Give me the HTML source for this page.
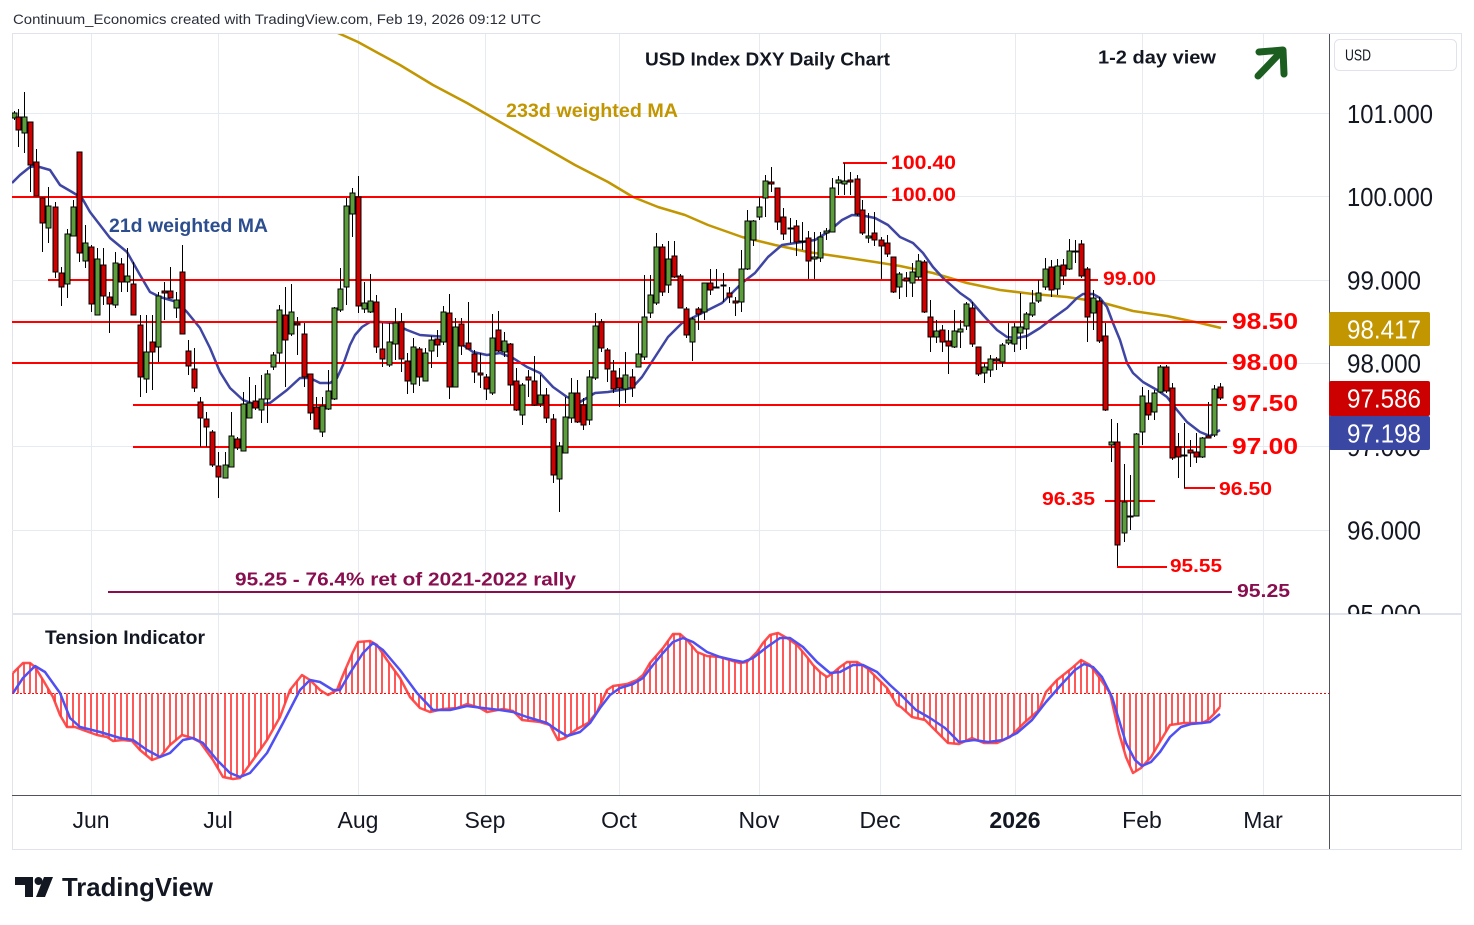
<!DOCTYPE html>
<html><head><meta charset="utf-8">
<style>
html,body{margin:0;padding:0;background:#fff;}
svg{display:block;font-family:"Liberation Sans",Arial,sans-serif;}
</style></head><body>
<svg id="s" width="1474" height="925" viewBox="0 0 1474 925" xmlns="http://www.w3.org/2000/svg">
<defs>
<clipPath id="mp"><rect x="12" y="34" width="1317" height="580"/></clipPath>
<clipPath id="ip"><rect x="12" y="615" width="1317" height="180"/></clipPath>
<clipPath id="ax"><rect x="1330" y="34" width="131" height="580"/></clipPath>
</defs>
<rect width="1474" height="925" fill="#fff"/>

<!-- header -->
<text x="13" y="24" font-size="14" fill="#2a2e39" textLength="528" lengthAdjust="spacingAndGlyphs">Continuum_Economics created with TradingView.com, Feb 19, 2026 09:12 UTC</text>

<!-- frame -->
<rect x="12.5" y="33.5" width="1449" height="816" fill="none" stroke="#e0e3eb"/>

<!-- grid -->
<g stroke="#e6ebf1" stroke-width="1">
<line x1="91.5" y1="34" x2="91.5" y2="795"/>
<line x1="218.5" y1="34" x2="218.5" y2="795"/>
<line x1="358.5" y1="34" x2="358.5" y2="795"/>
<line x1="485.5" y1="34" x2="485.5" y2="795"/>
<line x1="619.5" y1="34" x2="619.5" y2="795"/>
<line x1="759.5" y1="34" x2="759.5" y2="795"/>
<line x1="880.5" y1="34" x2="880.5" y2="795"/>
<line x1="1015.5" y1="34" x2="1015.5" y2="795"/>
<line x1="1142.5" y1="34" x2="1142.5" y2="795"/>
<line x1="1263.5" y1="34" x2="1263.5" y2="795"/>
<line x1="12" y1="113.5" x2="1329" y2="113.5"/>
<line x1="12" y1="196.5" x2="1329" y2="196.5"/>
<line x1="12" y1="280.5" x2="1329" y2="280.5"/>
<line x1="12" y1="363.5" x2="1329" y2="363.5"/>
<line x1="12" y1="446.5" x2="1329" y2="446.5"/>
<line x1="12" y1="530.5" x2="1329" y2="530.5"/>
</g>

<!-- pane separator -->
<line x1="12" y1="614" x2="1461" y2="614" stroke="#e0e3eb" stroke-width="2"/>

<g clip-path="url(#mp)">
<!-- 233d MA -->
<polyline fill="none" stroke="#c29600" stroke-width="2.5" stroke-linejoin="round" points="330,29 338,33 358,42 400,65 433,85 467,103 500,122 575,165 608,182 633,197 658,207 685,215 708,225 742,237 775,245 808,252 842,257 875,262 900,266 933,273 967,283 1000,290 1033,294 1067,297 1100,302 1133,311 1167,316 1200,323 1221,328"/>
<!-- 21d MA -->
<polyline fill="none" stroke="#3f45a3" stroke-width="2.5" stroke-linejoin="round" points="12,183 20,175 30,167 36,166 50,170 60,185 72,192 82,198 90,212 100,225 110,238 127,252 140,275 150,292 160,297 177,302 187,312 200,328 210,348 220,372 230,388 243,400 257,405 270,403 287,390 300,378 310,378 320,383 330,383 337,378 343,365 350,345 355,335 362,327 370,322 380,322 393,323 407,330 420,335 433,336 447,337 460,343 473,352 487,355 500,353 513,358 527,367 540,373 553,387 567,397 580,402 595,393 608,392 632,388 642,377 655,357 668,337 682,323 702,313 722,303 742,283 755,273 768,257 782,245 802,242 815,240 828,232 842,220 852,215 865,216 875,218 888,225 900,237 913,243 923,253 933,267 943,278 960,293 970,300 983,315 997,330 1007,337 1017,338 1027,336 1040,328 1053,318 1067,308 1077,298 1083,294 1093,294 1100,298 1107,307 1113,323 1120,340 1127,363 1133,373 1143,382 1157,390 1167,397 1177,410 1187,422 1200,432 1210,436 1220,430"/>

<!-- red levels -->
<g stroke="#ff0000" stroke-width="2">
<line x1="12" y1="197" x2="887" y2="197"/>
<line x1="48" y1="280" x2="1098" y2="280"/>
<line x1="12" y1="322" x2="1227" y2="322"/>
<line x1="12" y1="363" x2="1227" y2="363"/>
<line x1="133" y1="405" x2="1227" y2="405"/>
<line x1="133" y1="447" x2="1227" y2="447"/>
<line x1="843" y1="163" x2="887" y2="163"/>
<line x1="1184" y1="488" x2="1215" y2="488"/>
<line x1="1105" y1="501" x2="1155" y2="501"/>
<line x1="1117" y1="567" x2="1167" y2="567"/>
</g>
<line x1="108" y1="592" x2="1232" y2="592" stroke="#880e4f" stroke-width="2"/>

<g id="cd"></g>
</g>

<!-- chart texts -->
<text x="645" y="65.5" font-size="18" font-weight="bold" fill="#131722" textLength="245" lengthAdjust="spacingAndGlyphs">USD Index DXY Daily Chart</text>
<text x="1098" y="63.5" font-size="18" font-weight="bold" fill="#131722" textLength="118" lengthAdjust="spacingAndGlyphs">1-2 day view</text>
<g stroke="#1b5e20" stroke-width="7" stroke-linecap="round" stroke-linejoin="round" fill="none">
<line x1="1258" y1="76" x2="1280" y2="53"/>
<polyline points="1259,52 1283,50 1284,74"/>
</g>
<text x="506" y="117" font-size="19" font-weight="bold" fill="#c29600" textLength="172" lengthAdjust="spacingAndGlyphs">233d weighted MA</text>
<text x="109" y="232" font-size="19" font-weight="bold" fill="#2c4d8e" textLength="159" lengthAdjust="spacingAndGlyphs">21d weighted MA</text>

<g fill="#ff0000" font-weight="bold">
<text x="891" y="169" font-size="19" textLength="65" lengthAdjust="spacingAndGlyphs">100.40</text>
<text x="891" y="201" font-size="19" textLength="65" lengthAdjust="spacingAndGlyphs">100.00</text>
<text x="1103" y="285" font-size="19" textLength="53" lengthAdjust="spacingAndGlyphs">99.00</text>
<text x="1232" y="329" font-size="23" textLength="66" lengthAdjust="spacingAndGlyphs">98.50</text>
<text x="1232" y="370" font-size="23" textLength="66" lengthAdjust="spacingAndGlyphs">98.00</text>
<text x="1232" y="411" font-size="23" textLength="66" lengthAdjust="spacingAndGlyphs">97.50</text>
<text x="1232" y="454" font-size="23" textLength="66" lengthAdjust="spacingAndGlyphs">97.00</text>
<text x="1219" y="495" font-size="18" textLength="53" lengthAdjust="spacingAndGlyphs">96.50</text>
<text x="1042" y="505" font-size="18" textLength="53" lengthAdjust="spacingAndGlyphs">96.35</text>
<text x="1170" y="572" font-size="18" textLength="52" lengthAdjust="spacingAndGlyphs">95.55</text>
</g>
<text x="1237" y="597" font-size="18" font-weight="bold" fill="#880e4f" textLength="53" lengthAdjust="spacingAndGlyphs">95.25</text>
<text x="235" y="585.5" font-size="18" font-weight="bold" fill="#880e4f" textLength="341" lengthAdjust="spacingAndGlyphs">95.25 - 76.4% ret of 2021-2022 rally</text>

<!-- indicator -->
<g clip-path="url(#ip)">
<line x1="12" y1="693.5" x2="1329" y2="693.5" stroke="#ff0000" stroke-width="1" stroke-dasharray="2,2"/>
<g id="hist" stroke="#ff3b3b" stroke-opacity="0.85" stroke-width="2"></g>
<polyline id="rl" fill="none" stroke="#ff3b3b" stroke-opacity="0.9" stroke-width="2.5" stroke-linejoin="round" points=""/>
<polyline fill="none" stroke="#4f4ff2" stroke-width="2.5" stroke-linejoin="round" points="13,693 23,678 35,666 45,672 60,693 70,718 80,727 100,732 120,738 133,740 147,750 160,757 170,753 183,740 193,738 203,743 217,760 230,773 240,777 250,773 267,753 283,723 300,690 310,680 320,682 333,690 340,690 350,673 363,653 373,643 383,650 400,670 417,693 433,710 450,710 467,706 483,708 500,710 513,712 527,717 547,723 557,730 567,736 580,732 590,723 600,708 610,695 620,688 633,684 643,678 653,665 663,653 673,642 683,638 693,642 707,652 720,657 733,660 743,662 753,658 767,647 780,638 790,638 803,647 817,662 830,673 840,672 853,665 863,665 877,672 890,685 901,695 916,710 930,718 945,728 959,742 974,740 988,742 1003,740 1017,733 1032,720 1046,702 1061,685 1075,670 1084,664 1093,667 1102,677 1112,697 1119,720 1126,743 1135,760 1142,766 1151,762 1160,752 1170,737 1181,727 1191,724 1202,723 1210,722 1220,714"/>
</g>
<text x="45" y="644" font-size="19" font-weight="bold" fill="#131722" textLength="160" lengthAdjust="spacingAndGlyphs">Tension Indicator</text>

<!-- axes lines -->
<line x1="1329.5" y1="34" x2="1329.5" y2="849" stroke="#50535e" stroke-width="1"/>
<line x1="12" y1="795.5" x2="1461" y2="795.5" stroke="#50535e" stroke-width="1"/>

<!-- price axis -->
<rect x="1334.5" y="39.5" width="122" height="31" rx="5" fill="#fff" stroke="#e0e3eb"/>
<text x="1345" y="60.5" font-size="16" fill="#131722" textLength="26" lengthAdjust="spacingAndGlyphs">USD</text>
<g clip-path="url(#ax)" font-size="26" fill="#131722">
<text x="1347" y="123" textLength="86" lengthAdjust="spacingAndGlyphs">101.000</text>
<text x="1347" y="206" textLength="86" lengthAdjust="spacingAndGlyphs">100.000</text>
<text x="1347" y="289.5" textLength="74" lengthAdjust="spacingAndGlyphs">99.000</text>
<text x="1347" y="372.5" textLength="74" lengthAdjust="spacingAndGlyphs">98.000</text>
<text x="1347" y="456" textLength="74" lengthAdjust="spacingAndGlyphs">97.000</text>
<text x="1347" y="539.5" textLength="74" lengthAdjust="spacingAndGlyphs">96.000</text>
<text x="1347" y="623" textLength="74" lengthAdjust="spacingAndGlyphs">95.000</text>
</g>
<rect x="1329" y="312" width="101" height="34" rx="2" fill="#c29600"/>
<text x="1347" y="338.5" font-size="26" fill="#fff" textLength="74" lengthAdjust="spacingAndGlyphs">98.417</text>
<rect x="1329" y="381" width="101" height="35" rx="2" fill="#cc0000"/>
<text x="1347" y="407.5" font-size="26" fill="#fff" textLength="74" lengthAdjust="spacingAndGlyphs">97.586</text>
<rect x="1329" y="416" width="101" height="34" rx="2" fill="#3a47a3"/>
<text x="1347" y="442.5" font-size="26" fill="#fff" textLength="74" lengthAdjust="spacingAndGlyphs">97.198</text>

<!-- time axis -->
<g font-size="23" fill="#131722" text-anchor="middle">
<text x="91" y="828">Jun</text>
<text x="218" y="828">Jul</text>
<text x="358" y="828">Aug</text>
<text x="485" y="828">Sep</text>
<text x="619" y="828">Oct</text>
<text x="759" y="828">Nov</text>
<text x="880" y="828">Dec</text>
<text x="1015" y="828" font-weight="bold">2026</text>
<text x="1142" y="828">Feb</text>
<text x="1263" y="828">Mar</text>
</g>

<!-- TradingView logo -->
<g fill="#131722">
<path d="M15 877 H33 V897 H25 V885 H15 Z"/>
<circle cx="38.5" cy="881" r="4"/>
<polygon points="44,877 53,877 45,897 36,897"/>
</g>
<text x="62" y="896" font-size="26" font-weight="bold" fill="#131722" textLength="151" lengthAdjust="spacingAndGlyphs">TradingView</text>
</svg>

<script>
(function(){
var ns="http://www.w3.org/2000/svg";
function mk(p,t,a){var e=document.createElementNS(ns,t);for(var k in a)e.setAttribute(k,a[k]);p.appendChild(e);return e;}
var C=[
[14,113,118,111,120,1],[18,117,130,109,147,0],[24,117,133,92,153,1],[30,122,165,122,192,0],[36,162,196,149,196,0],
[42,198,223,197,252,0],[48,206,228,187,243,1],[55,207,272,202,278,0],[61,273,287,267,306,0],[67,234,284,229,298,1],
[73,207,236,200,236,1],[79,152,253,152,262,0],[85,243,261,225,268,1],[91,247,304,245,312,0],[97,259,315,248,315,1],
[103,265,296,248,305,0],[109,297,304,292,333,0],[115,263,305,252,308,1],[121,264,282,258,292,0],[127,276,282,248,292,1],
[133,284,315,262,315,0],[140,325,377,315,397,0],[146,352,379,315,393,1],[152,342,352,315,390,0],[158,296,347,292,362,1],
[164,291,293,282,320,0],[170,291,298,267,298,0],[176,300,308,292,318,1],[182,272,334,245,334,0],[188,351,366,340,375,0],
[194,369,388,348,392,0],[200,402,418,397,447,0],[206,419,427,412,447,0],[212,432,465,430,467,0],[218,466,477,452,498,0],
[225,465,478,452,478,1],[231,436,467,412,467,1],[237,439,448,437,450,0],[243,404,451,392,451,1],[249,403,418,377,418,1],
[255,401,408,385,410,0],[261,399,410,375,423,1],[267,374,399,370,423,1],[273,355,367,352,370,1],[279,310,353,305,363,1],
[285,315,340,287,387,0],[291,312,334,284,336,1],[297,323,325,317,355,0],[304,334,377,323,387,0],[310,374,413,374,420,0],
[316,407,429,397,429,0],[322,406,432,397,437,1],[328,391,409,370,410,1],[334,308,399,307,400,1],[340,289,310,268,312,1],
[346,206,287,198,305,1],[352,193,214,188,237,1],[358,197,306,176,313,0],[364,303,309,282,313,1],[370,301,312,274,313,1],
[376,302,347,295,353,0],[382,349,359,323,367,0],[389,342,365,323,367,1],[395,323,344,308,360,1],[401,322,359,313,372,0],
[407,361,381,353,394,0],[413,347,384,338,393,1],[419,349,377,347,386,0],[425,353,381,348,381,1],[431,340,351,336,368,1],
[437,339,345,330,357,0],[443,312,342,306,345,1],[449,313,387,294,399,0],[455,327,387,318,387,1],[461,324,346,318,355,0],
[468,343,349,302,349,0],[474,354,372,350,383,0],[480,373,375,353,388,0],[486,377,389,374,400,0],[492,338,393,314,395,1],
[498,330,351,311,352,0],[504,341,352,332,357,1],[510,344,385,343,405,0],[516,381,410,368,411,0],[522,385,415,383,425,1],
[528,377,380,370,397,0],[534,381,405,356,406,0],[540,395,404,375,407,1],[546,395,418,388,423,0],[553,419,475,414,483,0],
[559,446,479,442,512,1],[565,417,453,397,453,1],[571,393,418,378,423,1],[577,393,422,380,423,0],[583,405,425,398,430,0],
[589,377,420,370,425,1],[595,326,378,313,380,1],[601,322,348,319,352,0],[607,350,369,348,382,0],[613,371,389,360,393,0],
[619,378,388,368,407,0],[625,375,389,352,403,1],[632,377,388,369,397,0],[638,354,367,323,367,1],[644,317,357,275,360,1],
[650,295,313,275,318,1],[656,247,303,233,305,1],[662,247,292,244,296,0],[668,259,285,241,293,1],[674,256,277,241,278,0],
[680,276,308,274,308,0],[686,309,335,307,338,0],[692,319,342,317,361,1],[698,309,314,307,330,0],[704,283,312,283,320,1],
[710,283,290,269,295,0],[716,287,287,269,288,1],[723,285,285,273,302,1],[729,293,297,287,303,0],[735,301,303,297,316,0],
[741,269,302,250,312,1],[747,221,269,210,270,1],[753,221,240,220,246,1],[759,207,217,197,220,1],[765,181,198,175,217,1],
[771,182,184,167,192,0],[777,188,222,188,230,0],[783,217,234,208,240,0],[790,228,228,218,243,1],[796,226,242,220,256,0],
[802,241,241,222,250,1],[808,238,261,231,279,0],[814,257,259,232,279,1],[820,237,258,232,262,1],[826,231,233,228,240,1],
[832,188,232,178,232,1],[838,180,183,176,195,1],[844,181,184,163,195,1],[850,180,182,172,195,0],[857,179,214,175,216,0],
[862,210,233,200,235,0],[868,236,238,213,243,1],[874,233,240,212,246,0],[881,240,246,237,279,0],[887,243,254,235,257,0],
[893,257,292,257,293,0],[899,274,287,272,299,1],[906,278,281,272,297,0],[912,272,283,263,297,1],[918,261,277,254,280,1],
[924,262,312,260,313,0],[930,317,337,300,352,0],[936,331,337,320,343,1],[942,330,342,325,352,0],[948,341,346,330,374,0],
[954,331,347,310,348,1],[960,329,332,320,348,1],[966,304,326,302,330,1],[972,308,344,302,347,0],[978,347,374,347,376,0],
[984,367,373,363,383,1],[990,359,370,355,377,1],[996,359,361,357,370,0],[1002,345,362,343,367,1],[1008,340,343,323,345,1],
[1014,327,344,323,352,1],[1020,327,333,293,350,1],[1026,314,329,312,349,1],[1032,303,315,290,317,1],[1038,293,301,280,303,1],
[1045,269,287,258,290,1],[1051,267,290,260,297,0],[1057,266,289,259,295,1],[1063,265,276,259,285,0],[1069,251,269,239,270,1],
[1075,251,251,240,263,1],[1081,244,276,240,278,0],[1087,269,317,267,342,0],[1093,298,313,290,330,1],[1099,301,341,297,343,0],
[1105,336,410,323,411,0],[1111,442,445,419,462,1],[1117,442,545,423,566,0],[1124,502,533,464,542,1],[1130,516,516,475,530,1],
[1136,434,516,433,516,1],[1142,396,432,387,445,1],[1148,403,415,390,420,0],[1154,393,412,390,420,1],[1160,367,392,365,393,1],
[1166,367,391,365,393,0],[1172,388,458,383,460,0],[1178,447,457,433,478,0],[1184,455,455,423,488,1],[1190,450,453,440,467,0],
[1196,452,457,433,463,0],[1202,438,457,437,458,1],[1208,436,438,402,438,0],[1214,389,435,385,437,1],[1220,387,398,383,400,0]
];
var gc=document.getElementById('cd');
C.forEach(function(c){
  var x=c[0],bt=c[1],bb=c[2],wt=c[3],wb=c[4],up=c[5];
  mk(gc,'line',{x1:x+0.5,x2:x+0.5,y1:wt,y2:wb,stroke:'#000','stroke-width':1});
  var h=Math.max(bb-bt,1);
  mk(gc,'rect',{x:x-2,y:bt,width:5,height:h,fill:up?'#5d9e3c':'#d00000',stroke:'#000','stroke-width':1});
});
var R=[[13,673],[23,663],[30,663],[35,667],[43,680],[53,697],[60,715],[67,727],[75,727],[83,730],[97,735],[107,737],[113,741],[123,740],[132,741],[140,750],[152,760],[160,757],[170,745],[182,735],[192,738],[200,742],[213,760],[223,777],[233,779],[240,778],[253,760],[267,740],[280,717],[290,690],[302,675],[310,680],[320,690],[328,695],[337,690],[343,675],[353,652],[358,642],[370,641],[377,645],[387,660],[400,678],[410,697],[420,708],[430,712],[443,709],[457,708],[467,704],[480,708],[487,712],[503,709],[513,711],[522,720],[540,722],[550,725],[558,740],[565,738],[577,729],[588,723],[597,712],[607,690],[613,686],[627,684],[637,680],[643,675],[650,663],[657,655],[663,648],[673,634],[680,634],[687,640],[697,652],[707,656],[720,657],[733,661],[740,663],[747,662],[757,652],[763,643],[770,635],[778,633],[787,638],[797,645],[807,657],[813,665],[820,672],[827,677],[833,673],[840,667],[847,662],[857,662],[867,668],[877,678],[887,688],[897,705],[901,707],[912,717],[925,720],[937,732],[948,743],[959,744],[972,738],[984,743],[997,743],[1010,737],[1024,723],[1039,710],[1046,692],[1057,680],[1072,668],[1081,660],[1090,665],[1099,677],[1110,693],[1119,733],[1126,757],[1133,773],[1141,768],[1151,757],[1161,740],[1170,725],[1184,723],[1202,723],[1208,720],[1213,715],[1220,707]];
function interp(P,x){if(x<=P[0][0])return P[0][1];for(var i=1;i<P.length;i++){if(x<=P[i][0]){var a=P[i-1],b=P[i];return a[1]+(b[1]-a[1])*(x-a[0])/(b[0]-a[0]);}}return P[P.length-1][1];}
var gh=document.getElementById('hist');
var xs=[13];C.forEach(function(c){if(c[0]>14)xs.push(c[0]);});
xs.forEach(function(x){var y=interp(R,x);mk(gh,'line',{x1:x,x2:x,y1:693.5,y2:y});});
document.getElementById('rl').setAttribute('points',R.map(function(p){return p.join(',');}).join(' '));
})();
</script>
</body></html>
